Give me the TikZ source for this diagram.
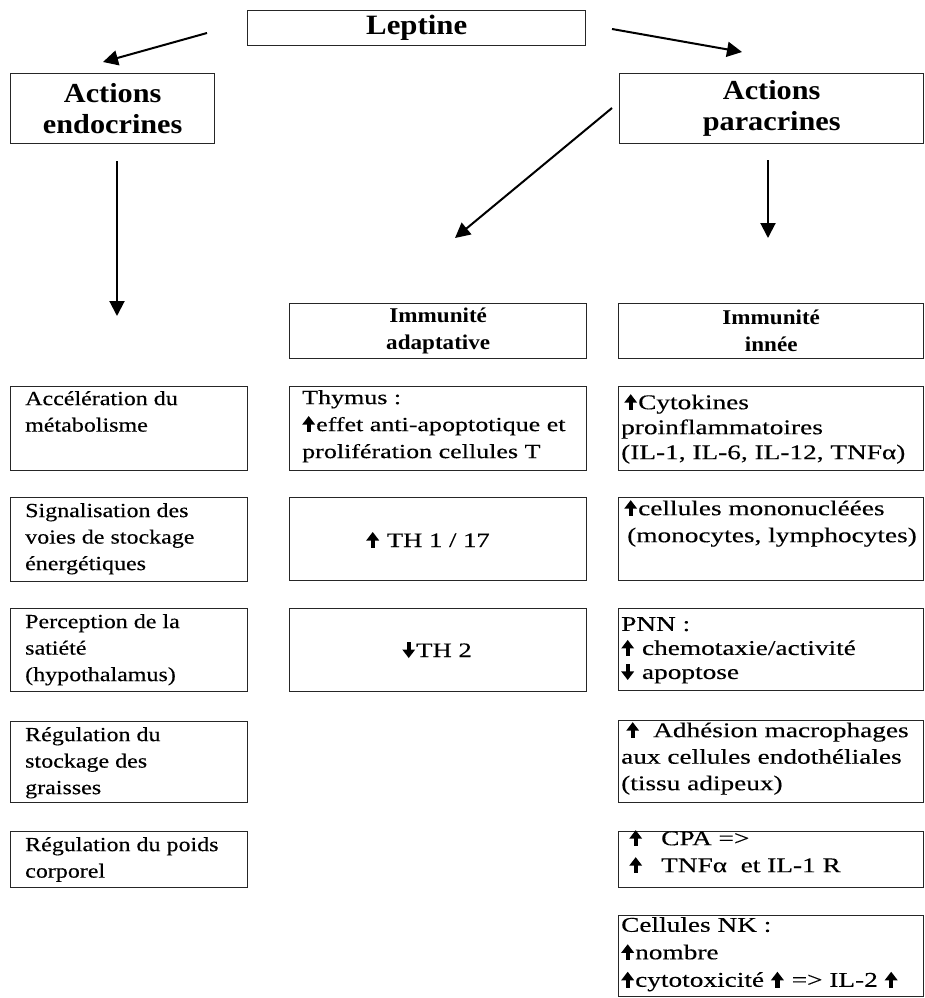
\documentclass[tikz,border=0pt]{standalone}
\usepackage{fontspec}
\usetikzlibrary{arrows.meta}
\setmainfont{Liberation Serif}
\newfontfamily\lfont{Liberation Serif}[FakeStretch=1.2,FakeBold=0.3]
\newfontfamily\rfont{Liberation Serif}[FakeStretch=1.3,FakeBold=0.3]
\newfontfamily\hfont{Liberation Serif}[FakeStretch=1.1]
\newcommand{\uar}{\tikz[baseline=0pt,x=1pt,y=1pt]{\fill (0,6.5)--(6.5,15)--(13,6.5)--cycle; \fill (4.3,-1) rectangle (8.7,7);}\hspace{1pt}}
\newcommand{\dar}{\tikz[baseline=0pt,x=1pt,y=1pt]{\fill (0,7.5)--(6.5,-1)--(13,7.5)--cycle; \fill (4.3,7) rectangle (8.7,15);}\hspace{1pt}}
\begin{document}
\begin{tikzpicture}[x=1pt,y=-1pt,
  box/.style={draw=black!85, line width=1.4pt, inner sep=0pt, anchor=north west},
  bighead/.style={align=center, font=\hfont\bfseries\fontsize{27.5}{31}\selectfont},
  smallhead/.style={align=center, font=\hfont\bfseries\fontsize{21}{27}\selectfont},
  ltxt/.style={align=left, inner sep=0pt, anchor=north west, font=\lfont\fontsize{20}{26.5}\selectfont, execute at begin node=\rule{0pt}{18pt}},
  rtxt/.style={align=left, inner sep=0pt, anchor=north west, font=\rfont\fontsize{21}{26}\selectfont, execute at begin node=\rule{0pt}{18pt}},
  ctxt/.style={inner sep=0pt, font=\rfont\fontsize{20.5}{26}\selectfont},
  arr/.style={line width=2pt, draw=black, -{Triangle[length=15pt,width=15pt]}}]
\useasboundingbox (0,0) rectangle (925,998);

% top level
\node[box, minimum width=338pt, minimum height=35pt, bighead, font=\hfont\bfseries\fontsize{28}{31}\selectfont] (lep) at (247,10) {Leptine};
\node[box, minimum width=204pt, minimum height=70pt, bighead] (endo) at (10,73) {Actions\\endocrines};
\node[box, minimum width=304pt, minimum height=70pt, bighead] (para) at (619,73) {Actions\\paracrines};

% arrows
\coordinate (a1s) at (207,33);  \coordinate (a1e) at (103,62);
\coordinate (a2s) at (612,29);  \coordinate (a2e) at (742,52);
\coordinate (a3s) at (117,161); \coordinate (a3e) at (117,316);
\coordinate (a4s) at (612,108); \coordinate (a4e) at (455,238);
\coordinate (a5s) at (768,160); \coordinate (a5e) at (768,238);
\draw[arr] (a1s) -- (a1e);
\draw[arr] (a2s) -- (a2e);
\draw[arr] (a3s) -- (a3e);
\draw[arr] (a4s) -- (a4e);
\draw[arr] (a5s) -- (a5e);

% headings of immunity columns
\node[box, minimum width=297pt, minimum height=55pt, smallhead] (imad) at (289,303) {Immunité\\adaptative};
\node[box, minimum width=305pt, minimum height=55pt, smallhead] (imin) at (618,303) {Immunité\\innée};

% left column
\node[box, minimum width=237pt, minimum height=84pt] (L1) at (10,386) {};
\node[box, minimum width=237pt, minimum height=84pt] (L2) at (10,497) {};
\node[box, minimum width=237pt, minimum height=83pt] (L3) at (10,608) {};
\node[box, minimum width=237pt, minimum height=81pt] (L4) at (10,721) {};
\node[box, minimum width=237pt, minimum height=56pt] (L5) at (10,831) {};
\node[ltxt] (L1t) at (25,391) {Accélération du\\métabolisme};
\node[ltxt] (L2t) at (25,503) {Signalisation des\\voies de stockage\\énergétiques};
\node[ltxt] (L3t) at (25,614) {Perception de la\\satiété\\(hypothalamus)};
\node[ltxt] (L4t) at (25,727) {Régulation du\\stockage des\\graisses};
\node[ltxt] (L5t) at (25,837) {Régulation du poids\\corporel};

% middle column
\node[box, minimum width=297pt, minimum height=84pt] (M1) at (289,386) {};
\node[box, minimum width=297pt, minimum height=83pt] (M2) at (289,497) {};
\node[box, minimum width=297pt, minimum height=83pt] (M3) at (289,608) {};
\node[rtxt, font=\rfont\fontsize{20}{27}\selectfont] (M1t) at (302,390) {Thymus :\\\uar effet anti-apoptotique et\\prolifération cellules T};
\node[ctxt] (M2t) at (428,540) {\uar\ TH 1 / 17};
\node[ctxt] (M3t) at (437,650) {\dar TH 2};

% right column
\node[box, minimum width=305pt, minimum height=84pt] (R1) at (618,386) {};
\node[box, minimum width=305pt, minimum height=83pt] (R2) at (618,497) {};
\node[box, minimum width=305pt, minimum height=82pt] (R3) at (618,608) {};
\node[box, minimum width=305pt, minimum height=82pt] (R4) at (618,720) {};
\node[box, minimum width=305pt, minimum height=56pt] (R5) at (618,831) {};
\node[box, minimum width=305pt, minimum height=81pt] (R6) at (618,915) {};
\node[rtxt, font=\rfont\fontsize{21}{25}\selectfont] (R1t) at (621,394) {\hspace*{3pt}\uar Cytokines\\proinflammatoires\\(IL-1, IL-6, IL-12, TNFα)};
\node[rtxt, font=\rfont\fontsize{21}{27}\selectfont] (R2t) at (621,500) {\hspace*{3pt}\uar cellules mononucléées\\\hspace*{6pt}(monocytes, lymphocytes)};
\node[rtxt, font=\rfont\fontsize{21}{24}\selectfont] (R3t) at (621,617) {PNN :\\\uar\ chemotaxie/activité\\\dar\ apoptose};
\node[rtxt, font=\rfont\fontsize{21}{26.5}\selectfont] (R4t) at (621,722) {\hspace*{5pt}\uar\hspace{13pt}Adhésion macrophages\\aux cellules endothéliales\\(tissu adipeux)};
\node[rtxt, font=\rfont\fontsize{21}{27}\selectfont] (R5t) at (621,830) {\hspace*{8pt}\uar\hspace{18pt}CPA =>\\\hspace*{8pt}\uar\hspace{18pt}TNFα\ \ et IL-1 R};
\node[rtxt, font=\rfont\fontsize{21}{27.5}\selectfont] (R6t) at (621,917) {Cellules NK :\\\uar nombre\\\uar cytotoxicité \uar\ => IL-2 \uar};
\end{tikzpicture}
\end{document}
